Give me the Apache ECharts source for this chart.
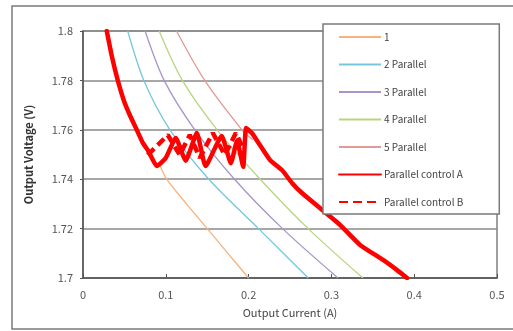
<!DOCTYPE html>
<html>
<head>
<meta charset="utf-8">
<script src="https://cdn.jsdelivr.net/npm/echarts@6/dist/echarts.min.js"></script>
<style>
  html, body { margin: 0; padding: 0; background: #fff; }
  #chart { width: 513px; height: 331px; }
</style>
</head>
<body>
<div id="chart"></div>
<script>
// [current (A), voltage (V)]
const single = [[0.093, 1.7455], [0.101, 1.74], [0.125, 1.73], [0.150, 1.72], [0.175, 1.71], [0.200, 1.70]]
const parallel2 = [[0.054, 1.80], [0.0735, 1.78], [0.105, 1.76], [0.152, 1.74], [0.212, 1.72], [0.272, 1.70]]
const parallel3 = [[0.075, 1.80], [0.098, 1.78], [0.135, 1.76], [0.183, 1.74], [0.241, 1.72], [0.308, 1.70]]
const parallel4 = [[0.092, 1.80], [0.120, 1.78], [0.162, 1.76], [0.214, 1.74], [0.272, 1.72], [0.338, 1.70]]
const parallel5 = [[0.113, 1.80], [0.147, 1.78], [0.192, 1.76], [0.205, 1.756]]
const controlA = [
  [0.0287, 1.80], [0.0347, 1.790], [0.042, 1.780], [0.0492, 1.772], [0.0565, 1.766], [0.0649, 1.760],
  [0.0722, 1.7547], [0.0782, 1.7518], [0.0831, 1.7486], [0.0891, 1.7453], [0.100, 1.7486],
  [0.112, 1.7567], [0.124, 1.7475], [0.1375, 1.7587], [0.148, 1.7453], [0.1675, 1.7575],
  [0.1786, 1.7465], [0.186, 1.7555], [0.1935, 1.745], [0.197, 1.7607], [0.204, 1.7587],
  [0.2137, 1.7538], [0.2258, 1.7478], [0.2403, 1.7437], [0.2524, 1.7385], [0.2645, 1.7344],
  [0.2862, 1.7283], [0.3104, 1.7215], [0.3346, 1.7134], [0.3624, 1.7073], [0.3793, 1.7032], [0.3914, 1.70]
]
const controlB = [
  [0.0782, 1.7498], [0.1024, 1.7579], [0.1169, 1.7498], [0.129, 1.7579], [0.141, 1.7486],
  [0.1568, 1.7587], [0.1713, 1.7498], [0.1846, 1.7587], [0.1943, 1.7518]
]
const xTicks = [0, 0.5, 0.1]
const yTicks = [1.7, 1.8, 0.02]

const font = '"Noto Sans CJK JP", "Noto Sans", sans-serif'

function curve(name, data, color) {
  return {
    name: name, type: 'line', data: data, symbol: 'none', smooth: 0.3,
    lineStyle: { color: color, width: 1.3 }, itemStyle: { color: color }
  }
}

const chart = echarts.init(document.getElementById('chart'))
chart.setOption({
  animation: false,
  textStyle: { fontFamily: font },
  graphic: [{
    type: 'rect', shape: { x: 12, y: 6, width: 520, height: 323 },
    style: { fill: 'none', stroke: '#7a7a7a', lineWidth: 1.5 }, z: 0
  }],
  grid: {
    left: 83, top: 31, right: 16, bottom: 53, show: true,
    borderColor: '#808080', borderWidth: 1.5
  },
  legend: {
    orient: 'vertical', left: 323, top: 24,
    padding: [6, 36, 5, 15], itemWidth: 42, itemHeight: 14, itemGap: 13.5,
    backgroundColor: '#fff', borderColor: '#7a7a7a', borderWidth: 1.5,
    itemStyle: { color: 'rgba(0,0,0,0)', borderWidth: 0 },
    textStyle: { fontSize: 10, color: '#444', padding: [0, 0, 0, -2], lineHeight: 14 },
    z: 10
  },
  xAxis: {
    type: 'value', min: xTicks[0], max: xTicks[1], interval: xTicks[2],
    name: 'Output Current (A)', nameLocation: 'middle', nameGap: 29,
    nameTextStyle: { fontSize: 11, color: '#444' },
    axisLine: { lineStyle: { color: '#555', width: 1.5 } },
    axisTick: { show: true, inside: true, length: 4, lineStyle: { color: '#555' } },
    axisLabel: { fontSize: 11, color: '#555', margin: 11 },
    splitLine: { show: false }
  },
  yAxis: {
    type: 'value', min: yTicks[0], max: yTicks[1], interval: yTicks[2],
    name: 'Output Voltage (V)', nameLocation: 'middle', nameGap: 49,
    nameTextStyle: { fontSize: 11, color: '#333', fontWeight: 'bold' },
    axisLine: { show: true, lineStyle: { color: '#555', width: 1.5 } },
    axisTick: { show: true, length: 3, lineStyle: { color: '#555' } },
    axisLabel: { fontSize: 11, color: '#555', margin: 10 },
    splitLine: { lineStyle: { color: '#8a8a8a', width: 1.5 } }
  },
  series: [
    curve('1', single, '#f7b27e'),
    curve('2 Parallel', parallel2, '#74c7dc'),
    curve('3 Parallel', parallel3, '#a994cc'),
    curve('4 Parallel', parallel4, '#b7d580'),
    curve('5 Parallel', parallel5, '#e39a95'),
    {
      name: 'Parallel control A', type: 'line', data: controlA, symbol: 'none', smooth: 0.15,
      lineStyle: { color: '#ff0000', width: 4.5, join: 'round', cap: 'round' },
      itemStyle: { color: '#ff0000' }
    },
    {
      name: 'Parallel control B', type: 'line', data: controlB, symbol: 'none',
      lineStyle: { color: '#ff0000', width: 4.5, type: [9, 5] },
      itemStyle: { color: '#ff0000' }
    }
  ]
})
</script>
</body>
</html>
